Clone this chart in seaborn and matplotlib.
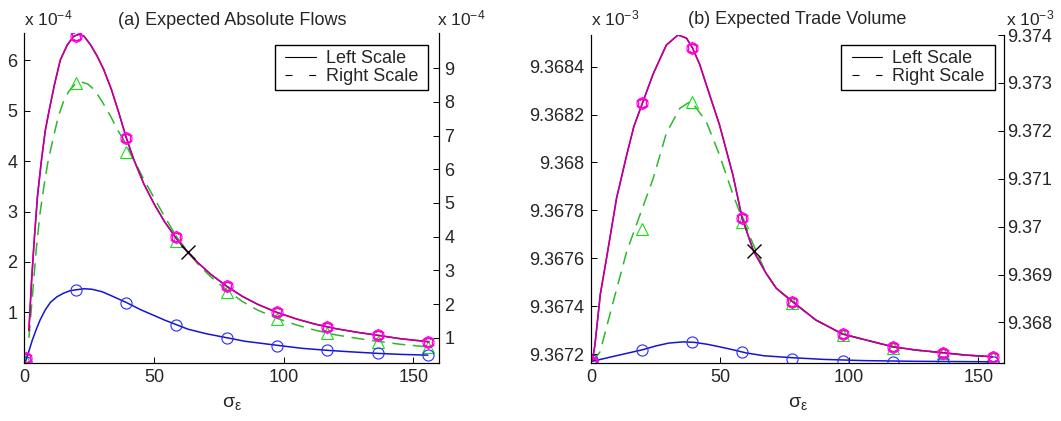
import numpy as np
import pandas as pd
import seaborn as sns
import matplotlib.pyplot as plt
from matplotlib.lines import Line2D
from matplotlib.patches import Rectangle
from matplotlib.path import Path
from matplotlib.ticker import FixedLocator, FuncFormatter

# sigma_eps positions of the markers (shared by both panels)
sigma_marks = [0.4, 19.8, 39.2, 58.6, 78.0, 97.4, 116.8, 136.2, 155.6]
cross_x = [63.2]

# ---- panel (a): expected absolute flows, values in units of 1e-4 ----
a_top_x = [1.7, 2.7, 3.7, 5.0, 6.5, 8.0, 9.5, 11.5, 13.8, 16.5, 19.0, 21.0, 23.0, 25.5, 28.0,
           30.5, 33.5, 36.3, 39.2, 42.0, 46.0, 50.0, 54.0, 58.5, 63.0, 67.0, 72.0, 78.0, 84.0,
           90.0, 97.4, 105.0, 112.0, 120.0, 128.0, 136.0, 145.0, 156.0]
a_top_y = [0.64, 1.6, 2.4, 3.3, 4.0, 4.6, 5.0, 5.5, 6.0, 6.3, 6.47, 6.51, 6.47, 6.3, 6.08,
           5.82, 5.42, 4.97, 4.47, 4.05, 3.55, 3.15, 2.8, 2.47, 2.19, 1.98, 1.75, 1.52, 1.32,
           1.16, 1.0, 0.87, 0.77, 0.68, 0.61, 0.55, 0.48, 0.42]
a_dash_x = [1.7, 3.0, 4.5, 6.0, 7.5, 9.0, 11.0, 13.0, 15.0, 17.0, 19.5, 21.5, 24.5, 27.0, 30.0,
            33.0, 36.0, 39.2, 42.0, 46.0, 50.0, 54.0, 58.5, 63.0, 67.0, 72.0, 78.0, 84.0, 90.0,
            97.4, 105.0, 112.0, 120.0, 128.0, 136.0, 145.0, 156.0]
a_dash_y = [1.0, 2.2, 3.6, 4.7, 5.5, 6.2, 6.9, 7.55, 8.0, 8.3, 8.52, 8.6, 8.52, 8.35, 8.0,
            7.6, 7.15, 6.75, 6.3, 5.7, 5.15, 4.6, 4.02, 3.55, 3.18, 2.8, 2.42, 2.08, 1.82,
            1.58, 1.38, 1.23, 1.09, 0.99, 0.9, 0.81, 0.73]
a_low_x = [0.4, 1.5, 3.0, 4.5, 6.0, 8.0, 10.0, 12.5, 15.0, 17.5, 20.0, 23.0, 26.0, 30.0, 34.0,
           39.2, 45.0, 50.0, 54.0, 58.5, 63.0, 70.0, 78.0, 85.0, 97.4, 107.0, 116.8, 126.0,
           136.2, 145.0, 155.6]
a_low_y = [0.03, 0.2, 0.45, 0.66, 0.85, 1.05, 1.2, 1.31, 1.38, 1.43, 1.45, 1.47, 1.46, 1.41, 1.32,
           1.2, 1.05, 0.94, 0.85, 0.76, 0.67, 0.58, 0.5, 0.43, 0.35, 0.29, 0.25, 0.22,
           0.19, 0.17, 0.155]
a_top_marks = [0.09, 6.48, 4.45, 2.50, 1.52, 1.00, 0.72, 0.55, 0.42]
a_dash_marks = [0.3, 8.55, 6.52, 3.88, 2.37, 1.57, 1.13, 0.88, 0.73]
a_low_marks = [0.01, 1.44, 1.19, 0.75, 0.49, 0.34, 0.25, 0.19, 0.155]
a_cross_y = [2.19]
a_left_ticks = [1, 2, 3, 4, 5, 6]
a_right_ticks = [1, 2, 3, 4, 5, 6, 7, 8, 9]

# ---- panel (b): expected trade volume, values in units of 1e-3 ----
b_top_x = [0.4, 1.4, 3.5, 5.9, 9.8, 13.7, 16.5, 19.8, 24.0, 29.1, 33.6, 36.9, 39.2, 42.0, 44.6,
           49.7, 54.9, 58.5, 62.9, 65.2, 67.8, 71.7, 78.0, 87.1, 97.4, 106.5, 116.8, 125.8,
           136.2, 145.1, 155.6]
b_top_y = [9.36717, 9.367238, 9.36745, 9.3676, 9.367851, 9.36803, 9.36815, 9.368247, 9.36837,
           9.36849, 9.368532, 9.368519, 9.368479, 9.36841, 9.368324, 9.368157, 9.367948,
           9.367767, 9.36763, 9.367586, 9.367537, 9.367475, 9.367419, 9.367342, 9.367284,
           9.367259, 9.367231, 9.367217, 9.367206, 9.367196, 9.367189]
b_dash_x = [0.4, 3.4, 8.5, 13.7, 18.9, 24.0, 29.1, 34.3, 38.7, 44.6, 49.7, 55.0, 58.5, 62.9,
            65.2, 67.8, 71.7, 78.0, 87.1, 97.4, 106.5, 116.8, 125.8, 136.2, 145.1, 155.6]
b_dash_y = [9.36718, 9.367388, 9.368432, 9.369476, 9.37025, 9.371008, 9.37195, 9.37247,
            9.372622, 9.37219, 9.371495, 9.37066, 9.370173, 9.369616, 9.369338, 9.369025,
            9.368712, 9.368432, 9.36805, 9.367758, 9.367633, 9.367493, 9.367424, 9.367367,
            9.367319, 9.367284]
b_low_x = [0.4, 10.0, 19.8, 25.0, 30.0, 35.5, 40.0, 45.0, 50.0, 55.0, 60.0, 67.0, 78.0, 90.0,
           105.0, 125.0, 155.6]
b_low_y = [9.36717, 9.367194, 9.367218, 9.367234, 9.367246, 9.367251, 9.367249, 9.367241,
           9.36723, 9.367218, 9.367205, 9.367193, 9.367185, 9.367178, 9.367173, 9.36717,
           9.367168]
b_top_marks = [9.367169, 9.368247, 9.368479, 9.367767, 9.367419, 9.367284, 9.367231, 9.367206, 9.367189]
b_dash_marks = [9.367215, 9.36995, 9.3726, 9.370102, 9.368399, 9.367737, 9.367472, 9.367355, 9.367284]
b_low_marks = [9.367175, 9.367217, 9.367249, 9.367209, 9.36718, 9.367172, 9.367168, 9.367166, 9.367166]
b_cross_y = [9.36763]
b_left_ticks = [9.3672, 9.3674, 9.3676, 9.3678, 9.368, 9.3682, 9.3684]
b_right_ticks = [9.368, 9.369, 9.37, 9.371, 9.372, 9.373, 9.374]

sns.set_style("white")
plt.rcParams["font.family"] = ["Liberation Sans", "DejaVu Sans"]
plt.rcParams["mathtext.fontset"] = "custom"
plt.rcParams["mathtext.rm"] = "Liberation Sans"
plt.rcParams["mathtext.it"] = "Liberation Sans"
plt.rcParams["mathtext.bf"] = "Liberation Sans:bold"

HEXAGRAM = Path.unit_regular_star(6, 0.577)
BLUE_LINE, BLUE_MARK = "#1414d4", "#2a2aff"
GREEN_LINE, GREEN_MARK = "#2cb82c", "#14e014"
PURPLE_LINE = "#b000b0"


def tick_fmt(scale):
    return FuncFormatter(lambda v, pos: f"{v / scale:.4f}".rstrip("0").rstrip("."))


def line(ax, x, y, scale, color, dashed=False):
    sns.lineplot(x=np.array(x), y=np.array(y) * scale, ax=ax, color=color, lw=1.1,
                 sort=False, estimator=None, legend=False)
    if dashed:
        ax.lines[-1].set_dashes((8.5, 5))


def marks(ax, y, scale, color, marker, ms):
    ax.plot(sigma_marks, np.array(y) * scale, ls="none", marker=marker, ms=ms,
            mfc="none", mec=color, mew=0.8)


def panel(rect, scale, power, title, title_pad, top, dash, low, top_m, dash_m, low_m, cross_y,
          left_lim, right_lim, left_ticks, right_ticks, right_pad, leg_box, off_right, off_up):
    ax = fig.add_axes(rect)
    ax2 = ax.twinx()
    ax.set_zorder(ax2.get_zorder() + 1)
    ax.patch.set_visible(False)

    # right scale series
    line(ax2, dash[0], dash[1], scale, GREEN_LINE, dashed=True)
    marks(ax2, dash_m, scale, GREEN_MARK, "^", 9)

    # left scale series
    line(ax, low[0], low[1], scale, BLUE_LINE)
    marks(ax, low_m, scale, BLUE_MARK, "o", 8)
    line(ax, top[0], top[1], scale, "#ff0000")
    line(ax, top[0], top[1], scale, PURPLE_LINE)
    marks(ax, top_m, scale, "#ff1010", "s", 6)
    marks(ax, top_m, scale, "#ff00ff", "o", 8)
    marks(ax, top_m, scale, "#ff00ff", HEXAGRAM, 9)
    ax.plot(cross_x, np.array(cross_y) * scale, ls="none", marker="x", ms=10, mew=1.0, color="k")

    ax.set_xlim(0, 160)
    ax.set_ylim(left_lim[0] * scale, left_lim[1] * scale)
    ax2.set_ylim(right_lim[0] * scale, right_lim[1] * scale)
    ax.xaxis.set_major_locator(FixedLocator([0, 50, 100, 150]))
    ax.yaxis.set_major_locator(FixedLocator(np.array(left_ticks) * scale))
    ax2.yaxis.set_major_locator(FixedLocator(np.array(right_ticks) * scale))
    ax.yaxis.set_major_formatter(tick_fmt(scale))
    ax2.yaxis.set_major_formatter(tick_fmt(scale))

    ax.tick_params(axis="both", direction="in", length=4, width=0.7, labelsize=13, color="k")
    ax.tick_params(axis="x", bottom=True, pad=5)
    ax.tick_params(axis="y", left=True, right=False, pad=5)
    ax2.tick_params(axis="y", right=True, direction="in", length=4, width=0.7,
                    labelsize=13, pad=right_pad, color="k")
    for a in (ax, ax2):
        a.spines["top"].set_visible(False)
        for s in ("left", "right", "bottom"):
            a.spines[s].set_color("k")
            a.spines[s].set_linewidth(0.8)

    ax.set_title(title, fontsize=13, pad=title_pad)
    ax.set_xlabel(r"$\sigma_{\varepsilon}$", fontsize=14, labelpad=6)

    off = f"x 10$^{{-{power}}}$"
    ax.annotate(off, xy=(0, 1), xycoords="axes fraction", xytext=(0, off_up),
                textcoords="offset points", ha="left", va="baseline", fontsize=12.5)
    ax.annotate(off, xy=(1, 1), xycoords="axes fraction", xytext=(off_right, off_up),
                textcoords="offset points", ha="left", va="baseline", fontsize=12.5)

    # legend frame drawn as a box, legend entries centred in it
    x0, y0, x1, y1 = leg_box
    ax.add_patch(Rectangle((x0, y0), x1 - x0, y1 - y0, transform=ax.transAxes,
                           fc="white", ec="k", lw=1.0, zorder=5))
    handles = [Line2D([], [], color="k", lw=0.8),
               Line2D([], [], color="k", lw=0.8, dashes=(6.3, 15))]
    leg = ax.legend(handles, ["Left Scale", "Right Scale"], loc="center",
                    bbox_to_anchor=((x0 + x1) / 2, (y0 + y1) / 2), frameon=False,
                    fontsize=13, handlelength=1.7, handletextpad=0.55,
                    labelspacing=0.05, borderpad=0.0)
    leg.set_zorder(6)
    return ax, ax2


fig = plt.figure(figsize=(10.61, 4.21), dpi=100)

panel([0.02309, 0.13895, 0.39095, 0.78195], 1e-4, 4, "(a) Expected Absolute Flows", 6,
      (a_top_x, a_top_y), (a_dash_x, a_dash_y), (a_low_x, a_low_y),
      a_top_marks, a_dash_marks, a_low_marks, a_cross_y,
      (0.009, 6.53), (0.27, 10.03), a_left_ticks, a_right_ticks, 3.6,
      (0.6032, 0.8278, 0.9735, 0.9645), -1.9, 6)

panel([0.55730, 0.13895, 0.38897, 0.77791], 1e-3, 3, "(b) Expected Trade Volume", 8,
      (b_top_x, b_top_y), (b_dash_x, b_dash_y), (b_low_x, b_low_y),
      b_top_marks, b_dash_marks, b_low_marks, b_cross_y,
      (9.367165, 9.368532), (9.367165, 9.374), b_left_ticks, b_right_ticks, 2.2,
      (0.6055, 0.8321, 0.9782, 0.9695), 1.2, 7)

fig.savefig("out.png", dpi=100)
